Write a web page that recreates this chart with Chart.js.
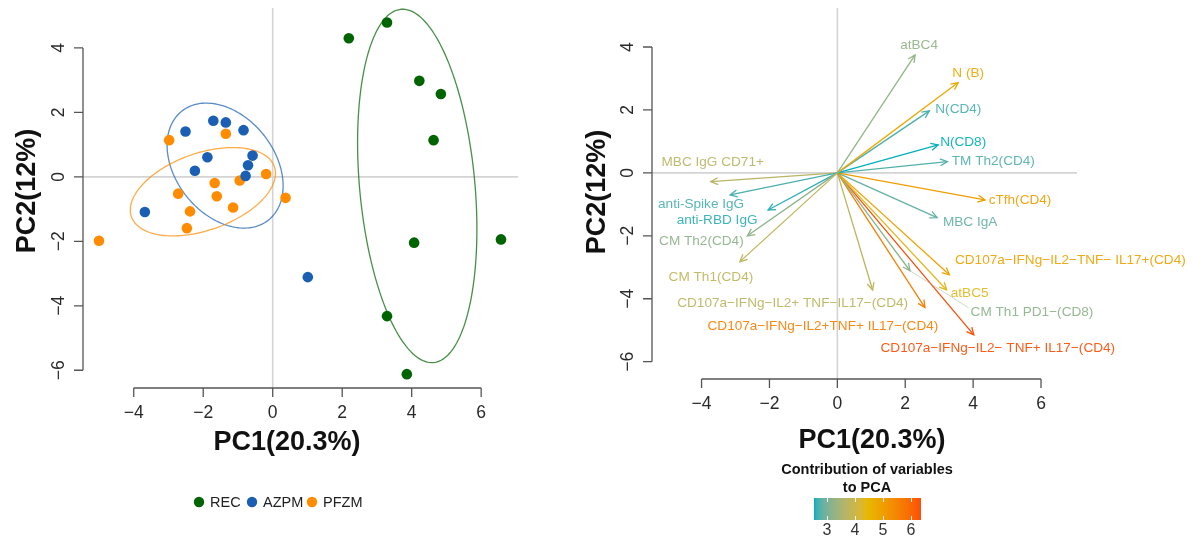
<!DOCTYPE html>
<html>
<head>
<meta charset="utf-8">
<script src="https://cdn.jsdelivr.net/npm/chart.js@4.4.0/dist/chart.umd.min.js"></script>
<style>
  html, body { margin: 0; padding: 0; background: #fff; width: 1192px; height: 551px; overflow: hidden; }
  #scoreBox { position: absolute; left: 0; top: 0; width: 560px; height: 551px; }
  #loadingBox { position: absolute; left: 560px; top: 0; width: 632px; height: 551px; }
</style>
</head>
<body>
<div id="scoreBox"><canvas id="scoreChart" width="560" height="551"></canvas></div>
<div id="loadingBox"><canvas id="loadingChart" width="632" height="551"></canvas></div>
<script>
// ---- Individuals (PCA scores) ----
const groupNames = ['REC', 'AZPM', 'PFZM'];
const groupColors = ['#006400', '#1a5fb4', '#ff8c00'];

const recPC1 = [3.29, 2.19, 4.22, 4.84, 4.63, 4.07, 6.57, 3.29, 3.86];
const recPC2 = [4.79, 4.30, 2.98, 2.57, 1.14, -2.04, -1.94, -4.32, -6.12];
const azpmPC1 = [-2.51, -1.71, -1.35, -0.84, -1.88, -0.58, -0.71, -0.78, -2.24, -3.68, 1.01];
const azpmPC2 = [1.41, 1.74, 1.69, 1.45, 0.61, 0.66, 0.36, 0.03, 0.19, -1.09, -3.11];
const pfzmPC1 = [-2.98, -1.35, -0.19, 0.37, -1.67, -0.95, -2.72, -1.61, -1.14, -2.38, -2.47, -5.00];
const pfzmPC2 = [1.14, 1.34, 0.09, -0.65, -0.19, -0.11, -0.52, -0.60, -0.95, -1.07, -1.59, -1.98];

// Group ellipses: centre, semi-axes and orientation (degrees) in PC units
const ellipseCenterPC1 = [4.16, -1.37, -2.01];
const ellipseCenterPC2 = [-0.28, 0.35, -0.46];
const ellipseSemiMajor = [5.50, 2.105, 2.20];
const ellipseSemiMinor = [1.66, 1.455, 1.185];
const ellipseAngle = [94.8, 122.6, 21.8];

// ---- Variables (loadings) ----
const variableNames = [
  'atBC4', 'N (B)', 'N(CD4)', 'N(CD8)', 'TM Th2(CD4)', 'cTfh(CD4)', 'MBC IgA',
  'CD107a\u2212IFNg\u2212IL2\u2212TNF\u2212 IL17+(CD4)', 'atBC5', 'CM Th1 PD1\u2212(CD8)',
  'CD107a\u2212IFNg\u2212IL2\u2212 TNF+ IL17\u2212(CD4)', 'CD107a\u2212IFNg\u2212IL2+TNF+ IL17\u2212(CD4)',
  'CD107a\u2212IFNg\u2212IL2+ TNF\u2212IL17\u2212(CD4)', 'CM Th1(CD4)', 'CM Th2(CD4)',
  'anti-RBD IgG', 'anti-Spike IgG', 'MBC IgG CD71+'
];
const loadingPC1 = [2.29, 3.56, 2.71, 2.97, 3.24, 4.35, 2.94, 3.30, 3.22, 2.14, 4.02, 2.58, 1.04, -2.87, -2.65, -2.04, -3.16, -3.73];
const loadingPC2 = [3.75, 2.87, 1.97, 0.89, 0.36, -0.86, -1.42, -3.24, -3.72, -3.11, -5.15, -4.28, -3.72, -2.82, -2.00, -1.18, -0.70, -0.28];
const contribution = [3.25, 4.8, 2.7, 2.54, 2.75, 5.0, 2.85, 4.9, 4.35, 3.2, 6.36, 5.6, 3.75, 3.8, 3.2, 2.6, 2.7, 3.7];

// Label placement relative to each arrow tip, in pixels [dx, dy, leader]
const labelOffsets = [
  [4, -10, 0], [10, -9, 0], [29, -2, 0], [25, -3, 0], [46, 0, 0], [35, 0, 0], [33, 5, 0],
  [121, -15, 0], [23, 3, 0], [122, 41, 1], [24, 13, 0], [-102, 19, 0], [-80, 13, 0],
  [-29, 16, 0], [-46, 5, 0], [-51, 10, 0], [-29, 9, 0], [2, -19, 0]
];

// ---- Axes ----
const xTicks = [-4, -2, 0, 2, 4, 6];
const yTicks = [-6, -4, -2, 0, 2, 4];
const xRange = [-5.46, 7.06];
const yRange = [-6.55, 5.24];
const colorbarTicks = [3, 4, 5, 6];
const gradientColors = ['#00AFBB', '#E7B800', '#FC4E07'];

const FONT = '"Liberation Sans", Arial, sans-serif';
const fmt = v => (v < 0 ? '\u2212' + Math.abs(v) : String(v));

// ---- Lab colour interpolation for the contribution gradient ----
function hexToRgb(h) { return [parseInt(h.slice(1, 3), 16), parseInt(h.slice(3, 5), 16), parseInt(h.slice(5, 7), 16)]; }
function toLin(c) { c /= 255; return c <= 0.04045 ? c / 12.92 : Math.pow((c + 0.055) / 1.055, 2.4); }
function fromLin(c) {
  const v = c <= 0.0031308 ? 12.92 * c : 1.055 * Math.pow(c, 1 / 2.4) - 0.055;
  return Math.round(Math.max(0, Math.min(1, v)) * 255);
}
function rgbToLab(rgb) {
  const R = toLin(rgb[0]), G = toLin(rgb[1]), B = toLin(rgb[2]);
  const X = (0.4124564 * R + 0.3575761 * G + 0.1804375 * B) / 0.95047;
  const Y = 0.2126729 * R + 0.7151522 * G + 0.0721750 * B;
  const Z = (0.0193339 * R + 0.1191920 * G + 0.9503041 * B) / 1.08883;
  const f = t => (t > 0.008856 ? Math.cbrt(t) : 7.787 * t + 16 / 116);
  const fx = f(X), fy = f(Y), fz = f(Z);
  return [116 * fy - 16, 500 * (fx - fy), 200 * (fy - fz)];
}
function labToRgb(lab) {
  const fy = (lab[0] + 16) / 116, fx = fy + lab[1] / 500, fz = fy - lab[2] / 200;
  const inv = t => (t * t * t > 0.008856 ? t * t * t : (t - 16 / 116) / 7.787);
  const X = inv(fx) * 0.95047, Y = inv(fy), Z = inv(fz) * 1.08883;
  return [
    fromLin(3.2404542 * X - 1.5371385 * Y - 0.4985314 * Z),
    fromLin(-0.9692660 * X + 1.8760108 * Y + 0.0415560 * Z),
    fromLin(0.0556434 * X - 0.2040259 * Y + 1.0572252 * Z)
  ];
}
const labStops = gradientColors.map(c => rgbToLab(hexToRgb(c)));
const cMin = Math.min(...contribution), cMax = Math.max(...contribution);
function contribColor(v) {
  let t = (v - cMin) / (cMax - cMin);
  t = Math.max(0, Math.min(1, t));
  const seg = t <= 0.5 ? 0 : 1;
  const u = seg === 0 ? t * 2 : (t - 0.5) * 2;
  const a = labStops[seg], b = labStops[seg + 1];
  const rgb = labToRgb([a[0] + (b[0] - a[0]) * u, a[1] + (b[1] - a[1]) * u, a[2] + (b[2] - a[2]) * u]);
  return `rgb(${rgb[0]},${rgb[1]},${rgb[2]})`;
}

// ---- Shared drawing helpers ----
function drawZeroLines(chart) {
  const { ctx, chartArea: ca, scales: { x, y } } = chart;
  ctx.save();
  ctx.strokeStyle = '#d4d4d4';
  ctx.lineWidth = 1.6;
  const x0 = x.getPixelForValue(0), y0 = y.getPixelForValue(0);
  ctx.beginPath();
  ctx.moveTo(x0, ca.top); ctx.lineTo(x0, ca.bottom);
  ctx.moveTo(ca.left, y0); ctx.lineTo(ca.right, y0);
  ctx.stroke();
  ctx.restore();
}

function drawBaseAxes(chart, titles) {
  const { ctx, chartArea: ca, scales: { x, y } } = chart;
  ctx.save();
  ctx.strokeStyle = '#555';
  ctx.lineWidth = 1.3;
  const xs = xTicks.map(v => x.getPixelForValue(v));
  const ys = yTicks.map(v => y.getPixelForValue(v));
  const yb = ca.bottom, xl = ca.left;
  ctx.beginPath();
  ctx.moveTo(xs[0], yb); ctx.lineTo(xs[xs.length - 1], yb);
  xs.forEach(p => { ctx.moveTo(p, yb); ctx.lineTo(p, yb + 9); });
  ctx.moveTo(xl, ys[0]); ctx.lineTo(xl, ys[ys.length - 1]);
  ys.forEach(p => { ctx.moveTo(xl, p); ctx.lineTo(xl - 9, p); });
  ctx.stroke();

  ctx.fillStyle = '#2a2a2a';
  ctx.font = '17.5px ' + FONT;
  ctx.textAlign = 'center';
  ctx.textBaseline = 'middle';
  xTicks.forEach((v, i) => ctx.fillText(fmt(v), xs[i], yb + 25));
  yTicks.forEach((v, i) => {
    ctx.save();
    ctx.translate(xl - 24, ys[i]);
    ctx.rotate(-Math.PI / 2);
    ctx.fillText(fmt(v), 0, 0);
    ctx.restore();
  });

  ctx.fillStyle = '#111';
  ctx.font = 'bold 27px ' + FONT;
  ctx.textBaseline = 'alphabetic';
  ctx.fillText('PC1(20.3%)', titles.xTitleX, titles.xTitleY);
  ctx.save();
  ctx.translate(titles.yTitleX, titles.yTitleY);
  ctx.rotate(-Math.PI / 2);
  ctx.textBaseline = 'middle';
  ctx.fillText('PC2(12%)', 0, 0);
  ctx.restore();
  ctx.restore();
}

// ---- Individuals chart ----
const groupPC1 = [recPC1, azpmPC1, pfzmPC1];
const groupPC2 = [recPC2, azpmPC2, pfzmPC2];

const scoreDatasets = groupNames.map((name, g) => ({
  label: name,
  data: groupPC1[g].map((v, i) => ({ x: v, y: groupPC2[g][i] })),
  backgroundColor: groupColors[g],
  borderWidth: 0,
  pointRadius: 5.3,
  pointHoverRadius: 5.3
}));

const ellipsePlugin = {
  id: 'groupEllipses',
  beforeDatasetsDraw(chart) {
    drawZeroLines(chart);
    const { ctx, scales: { x, y } } = chart;
    ctx.save();
    ctx.lineWidth = 1.3;
    groupNames.forEach((name, g) => {
      const phi = ellipseAngle[g] * Math.PI / 180;
      const a = ellipseSemiMajor[g], b = ellipseSemiMinor[g];
      ctx.strokeStyle = groupColors[g];
      ctx.globalAlpha = 0.72;
      ctx.beginPath();
      for (let k = 0; k <= 180; k++) {
        const t = k / 180 * 2 * Math.PI;
        const ex = ellipseCenterPC1[g] + a * Math.cos(t) * Math.cos(phi) - b * Math.sin(t) * Math.sin(phi);
        const ey = ellipseCenterPC2[g] + a * Math.cos(t) * Math.sin(phi) + b * Math.sin(t) * Math.cos(phi);
        const px = x.getPixelForValue(ex), py = y.getPixelForValue(ey);
        if (k === 0) ctx.moveTo(px, py); else ctx.lineTo(px, py);
      }
      ctx.closePath();
      ctx.stroke();
    });
    ctx.restore();
  },
  afterDraw(chart) {
    drawBaseAxes(chart, { xTitleX: 287, xTitleY: 450, yTitleX: 28, yTitleY: 191 });
    // legend
    const { ctx } = chart;
    const dotX = [199, 252, 312];
    ctx.save();
    ctx.font = '14.5px ' + FONT;
    ctx.textAlign = 'left';
    ctx.textBaseline = 'middle';
    groupNames.forEach((name, g) => {
      ctx.fillStyle = groupColors[g];
      ctx.beginPath();
      ctx.arc(dotX[g], 502, 5.2, 0, 2 * Math.PI);
      ctx.fill();
      ctx.fillStyle = '#222';
      ctx.fillText(name, dotX[g] + 11, 502.5);
    });
    ctx.restore();
  }
};

new Chart(document.getElementById('scoreChart'), {
  type: 'scatter',
  data: { datasets: scoreDatasets },
  options: {
    responsive: false,
    animation: false,
    events: [],
    layout: { padding: { left: 83, right: 42, top: 8, bottom: 163 } },
    scales: {
      x: { type: 'linear', min: xRange[0], max: xRange[1], display: false },
      y: { type: 'linear', min: yRange[0], max: yRange[1], display: false }
    },
    plugins: { legend: { display: false }, tooltip: { enabled: false } }
  },
  plugins: [ellipsePlugin]
});

// ---- Variables chart ----
const varColors = contribution.map(contribColor);
const loadingDatasets = variableNames.map((name, i) => ({
  label: name,
  data: [{ x: 0, y: 0 }, { x: loadingPC1[i], y: loadingPC2[i] }],
  showLine: true,
  borderColor: varColors[i],
  borderWidth: 1.3,
  pointRadius: 0,
  pointHoverRadius: 0
}));

const arrowPlugin = {
  id: 'loadingArrows',
  beforeDatasetsDraw(chart) { drawZeroLines(chart); },
  afterDatasetsDraw(chart) {
    const { ctx, scales: { x, y } } = chart;
    const x0 = x.getPixelForValue(0), y0 = y.getPixelForValue(0);
    ctx.save();
    ctx.lineWidth = 1.3;
    ctx.font = '13.6px ' + FONT;
    ctx.textAlign = 'center';
    ctx.textBaseline = 'middle';
    variableNames.forEach((name, i) => {
      const tx = x.getPixelForValue(loadingPC1[i]), ty = y.getPixelForValue(loadingPC2[i]);
      const ang = Math.atan2(ty - y0, tx - x0);
      const head = 8, spread = 0.45;
      ctx.strokeStyle = varColors[i];
      ctx.beginPath();
      ctx.moveTo(tx - head * Math.cos(ang - spread), ty - head * Math.sin(ang - spread));
      ctx.lineTo(tx, ty);
      ctx.lineTo(tx - head * Math.cos(ang + spread), ty - head * Math.sin(ang + spread));
      ctx.stroke();

      const off = labelOffsets[i];
      const lx = tx + off[0], ly = ty + off[1];
      if (off[2]) {
        const w = ctx.measureText(name).width;
        ctx.save();
        ctx.lineWidth = 0.8;
        ctx.globalAlpha = 0.6;
        ctx.beginPath();
        ctx.moveTo(tx, ty);
        ctx.lineTo(lx - w / 2 - 2, ly - 4);
        ctx.stroke();
        ctx.restore();
      }
      ctx.fillStyle = varColors[i];
      ctx.globalAlpha = 0.92;
      ctx.fillText(name, lx, ly);
      ctx.globalAlpha = 1;
    });
    ctx.restore();
  },
  afterDraw(chart) {
    drawBaseAxes(chart, { xTitleX: 872 - 560, xTitleY: 448, yTitleX: 598 - 560, yTitleY: 192 });
    // contribution colour bar
    const { ctx } = chart;
    const bx0 = 814 - 560, bx1 = 921 - 560, by0 = 498, by1 = 520;
    ctx.save();
    ctx.fillStyle = '#111';
    ctx.font = 'bold 14.5px ' + FONT;
    ctx.textAlign = 'center';
    ctx.textBaseline = 'middle';
    ctx.fillText('Contribution of variables', 867 - 560, 470);
    ctx.fillText('to PCA', 867 - 560, 488);
    const grad = ctx.createLinearGradient(bx0, 0, bx1, 0);
    for (let k = 0; k <= 40; k++) {
      const v = cMin + (cMax - cMin) * k / 40;
      grad.addColorStop(k / 40, contribColor(v));
    }
    ctx.fillStyle = grad;
    ctx.fillRect(bx0, by0, bx1 - bx0, by1 - by0);
    const cx = v => bx0 + (v - cMin) / (cMax - cMin) * (bx1 - bx0);
    ctx.strokeStyle = 'rgba(255,255,255,0.9)';
    ctx.lineWidth = 1;
    ctx.beginPath();
    colorbarTicks.forEach(v => {
      const p = Math.round(cx(v)) + 0.5;
      ctx.moveTo(p, by0); ctx.lineTo(p, by0 + 4);
      ctx.moveTo(p, by1 - 4); ctx.lineTo(p, by1);
    });
    ctx.stroke();
    ctx.fillStyle = '#333';
    ctx.font = '16px ' + FONT;
    colorbarTicks.forEach(v => ctx.fillText(String(v), cx(v), 531));
    ctx.restore();
  }
};

new Chart(document.getElementById('loadingChart'), {
  type: 'scatter',
  data: { datasets: loadingDatasets },
  options: {
    responsive: false,
    animation: false,
    events: [],
    layout: { padding: { left: 92, right: 115, top: 8, bottom: 172 } },
    scales: {
      x: { type: 'linear', min: xRange[0], max: xRange[1], display: false },
      y: { type: 'linear', min: yRange[0], max: yRange[1], display: false }
    },
    plugins: { legend: { display: false }, tooltip: { enabled: false } }
  },
  plugins: [arrowPlugin]
});
</script>
</body>
</html>
